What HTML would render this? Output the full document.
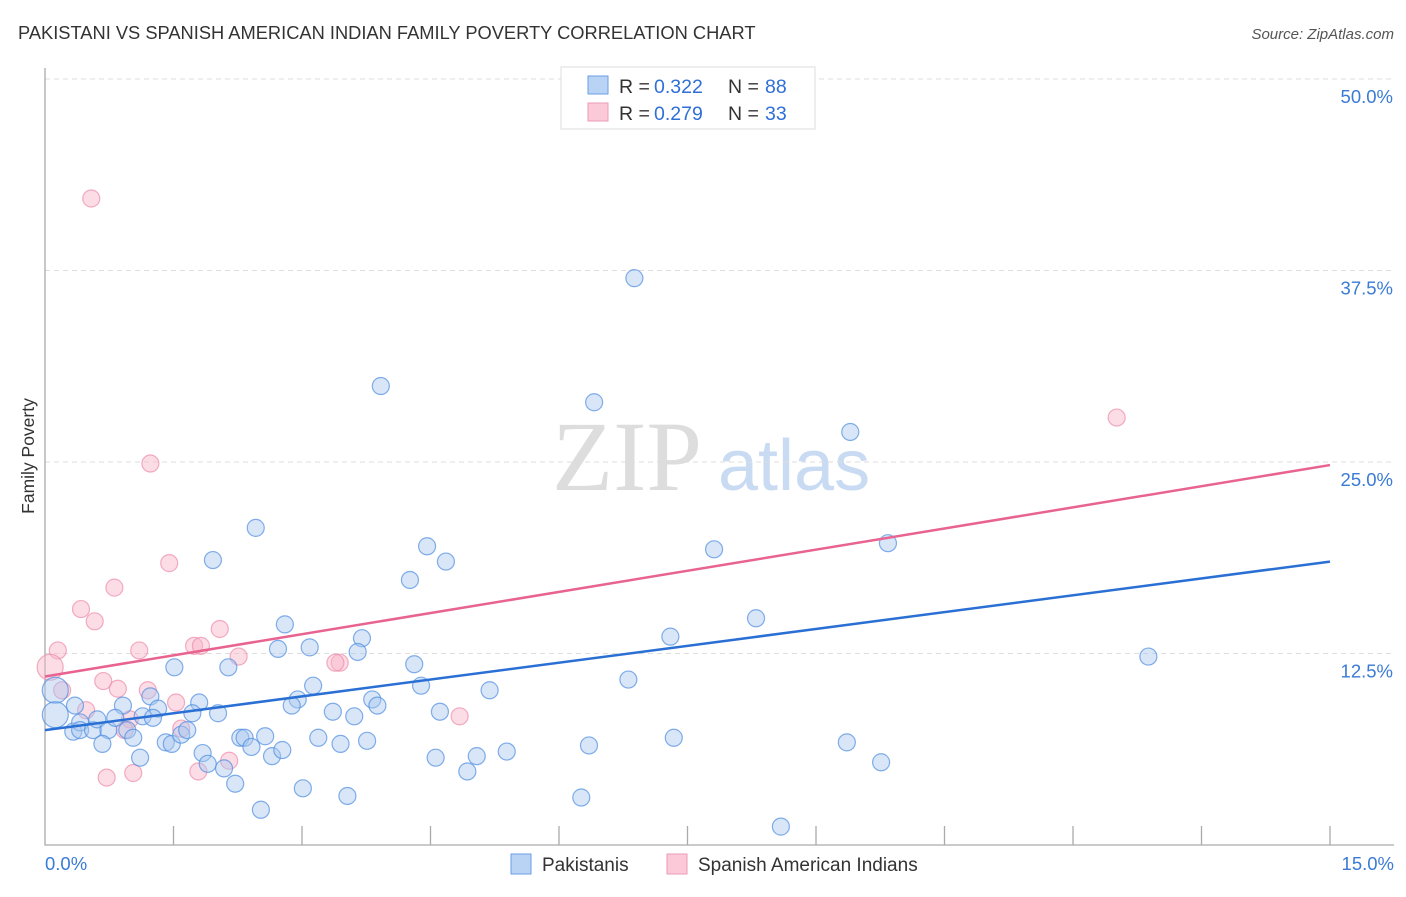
<!DOCTYPE html>
<html><head><meta charset="utf-8"><style>
body{margin:0;background:#fff;font-family:"Liberation Sans",sans-serif}
</style></head><body>
<svg id="c" width="1406" height="892" xmlns="http://www.w3.org/2000/svg">
<text x="18" y="39" font-size="18.3" fill="#333">PAKISTANI VS SPANISH AMERICAN INDIAN FAMILY POVERTY CORRELATION CHART</text>
<text x="1394" y="39" font-size="15" fill="#555" text-anchor="end" font-style="italic">Source: ZipAtlas.com</text>
<g><text x="552" y="490" font-size="100" font-family="Liberation Serif,serif" fill="#ddd">ZIP</text><text x="718" y="490" font-size="72" fill="#c9dbf2">atlas</text></g>
<g id="grid"></g><g id="axes"></g><g id="pts"></g><g id="trend"></g>
<text x="34" y="456" font-size="17.5" fill="#333" text-anchor="middle" transform="rotate(-90 34 456)">Family Poverty</text>
<g>
<rect x="561" y="67" width="254" height="62" fill="#fff" stroke="#ddd"/>
<rect x="588" y="76" width="20" height="18" fill="#b9d3f5" stroke="#6a9ee3"/>
<rect x="588" y="103" width="20" height="18" fill="#fcc9d8" stroke="#ec9ab4"/>
<text y="93" font-size="19.5" fill="#333"><tspan x="619">R =</tspan><tspan x="654" fill="#2f6fd6">0.322</tspan><tspan x="728">N =</tspan><tspan x="765" fill="#2f6fd6">88</tspan></text>
<text y="120" font-size="19.5" fill="#333"><tspan x="619">R =</tspan><tspan x="654" fill="#2f6fd6">0.279</tspan><tspan x="728">N =</tspan><tspan x="765" fill="#2f6fd6">33</tspan></text>
</g>
<g>
<rect x="511" y="854" width="20" height="20" fill="#b9d3f5" stroke="#6a9ee3"/>
<text x="542" y="871" font-size="19" fill="#333">Pakistanis</text>
<rect x="667" y="854" width="20" height="20" fill="#fcc9d8" stroke="#ec9ab4"/>
<text x="698" y="871" font-size="19" fill="#333">Spanish American Indians</text>
</g>
</svg>
<script>
const yTicks=[12.5,25.0,37.5,50.0];
const xTickLabels=["0.0%","15.0%"];
const blueX=[6.88,3.92,6.41,9.40,2.46,9.84,7.81,1.96,4.46,4.68,4.26,8.30,7.30,2.80,3.70,12.88,2.72,3.09,3.65,1.51,2.14,4.31,6.81,5.19,4.39,3.13,2.95,2.88,3.82,3.88,1.80,1.23,1.32,0.91,0.35,0.12,0.12,0.33,0.41,0.41,0.56,0.61,0.74,0.82,0.96,1.03,1.14,1.26,0.67,1.11,1.41,1.48,1.59,1.66,1.72,2.02,1.84,1.90,2.09,2.22,2.28,2.33,2.41,2.57,2.65,2.77,3.01,3.19,3.36,3.45,3.61,3.76,3.53,2.52,4.61,4.56,4.93,5.04,5.39,6.35,6.26,7.34,8.59,9.36,9.76];
const blueY=[37.0,29.96,28.9,26.96,20.7,19.7,19.3,18.6,19.5,18.5,17.3,14.8,13.6,14.4,13.5,12.3,12.8,12.9,12.6,11.6,11.6,11.8,10.8,10.1,10.4,10.4,9.5,9.1,9.5,9.1,9.3,9.7,8.9,9.1,9.1,10.1,8.5,7.4,8.0,7.5,7.5,8.2,7.5,8.3,7.5,7.0,8.4,8.3,6.6,5.7,6.7,6.6,7.2,7.5,8.6,8.6,6.0,5.3,5.0,4.0,7.0,7.0,6.4,7.1,5.8,6.2,3.7,7.0,8.7,6.6,8.4,6.8,3.2,2.3,8.7,5.7,4.8,5.8,6.1,6.5,3.1,7.0,1.2,6.7,5.4];
const blueBig=[35,36];
const pinkX=[0.54,1.23,12.51,1.45,0.81,0.42,0.58,2.04,0.15,1.10,1.74,1.82,2.26,3.44,0.06,0.68,0.85,1.20,0.20,1.53,0.48,0.99,0.93,1.59,4.84,0.72,1.03,1.79,2.15,3.39];
const pinkY=[42.2,24.9,27.9,18.4,16.8,15.4,14.6,14.1,12.7,12.7,13.0,13.0,12.3,11.9,11.6,10.7,10.2,10.1,10.1,9.3,8.8,8.2,7.5,7.6,8.4,4.4,4.7,4.8,5.5,11.9];
const pinkBig=[14];
const blueTrend=[7.5,18.5];
const pinkTrend=[11.0,24.8];
const X0=45,X1=1330,Y0=845,PX=(X1-X0)/15,PY=15.32;
const sx=v=>X0+v*PX, sy=v=>Y0-v*PY;
const NS="http://www.w3.org/2000/svg";
function mk(p,t,a){const e=document.createElementNS(NS,t);for(const k in a)e.setAttribute(k,a[k]);document.getElementById(p).appendChild(e);return e;}
yTicks.forEach(v=>{
 const g=mk('grid','line',{x1:X0,x2:1394,y1:sy(v),y2:sy(v),stroke:'#ddd','stroke-dasharray':'5,4'});
 
 
 const t=mk('grid','text',{x:1393,y:sy(v)+24,'font-size':18.5,fill:'#3a7bd5','text-anchor':'end'});
 t.textContent=v.toFixed(1)+'%';
 
 
});
const topLine=mk('grid','line',{x1:X0,x2:1394,y1:79,y2:79,stroke:'#ddd','stroke-dasharray':'5,4'});


const ax=mk('axes','path',{d:`M${X0},68V${Y0}H1394`,fill:'none',stroke:'#aaa','stroke-width':1.3});


for(let i=1;i<=10;i++){const l=mk('axes','line',{x1:sx(i*1.5),x2:sx(i*1.5),y1:826,y2:Y0,stroke:'#aaa','stroke-width':1.3});
 
 }
[[0,'start',45],[15,'end',1394]].forEach((d,i)=>{const t=mk('axes','text',{x:d[2],y:870,'font-size':18.5,fill:'#3a7bd5','text-anchor':d[1]});t.textContent=xTickLabels[i];
 
 });
function pts(xs,ys,big,fill,stroke,name){xs.forEach((x,i)=>{const c=mk('pts','circle',{cx:sx(x),cy:sy(ys[i]),r:big.includes(i)?13:8.5,fill:fill,'fill-opacity':0.45,stroke:stroke,'stroke-opacity':0.7,'stroke-width':1.2});
 
 });}
pts(pinkX,pinkY,pinkBig,'#f9b4c8','#ec8cab','spanish-american-indian-point');
pts(blueX,blueY,blueBig,'#a9c8f0','#4f8ddf','pakistani-point');
const bl=mk('trend','line',{x1:sx(0),y1:sy(blueTrend[0]),x2:sx(15),y2:sy(blueTrend[1]),stroke:'#2a6fd4','stroke-width':2.5});


const pl=mk('trend','line',{x1:sx(0),y1:sy(pinkTrend[0]),x2:sx(15),y2:sy(pinkTrend[1]),stroke:'#e8638f','stroke-width':2.5});


</script>
</body></html>
